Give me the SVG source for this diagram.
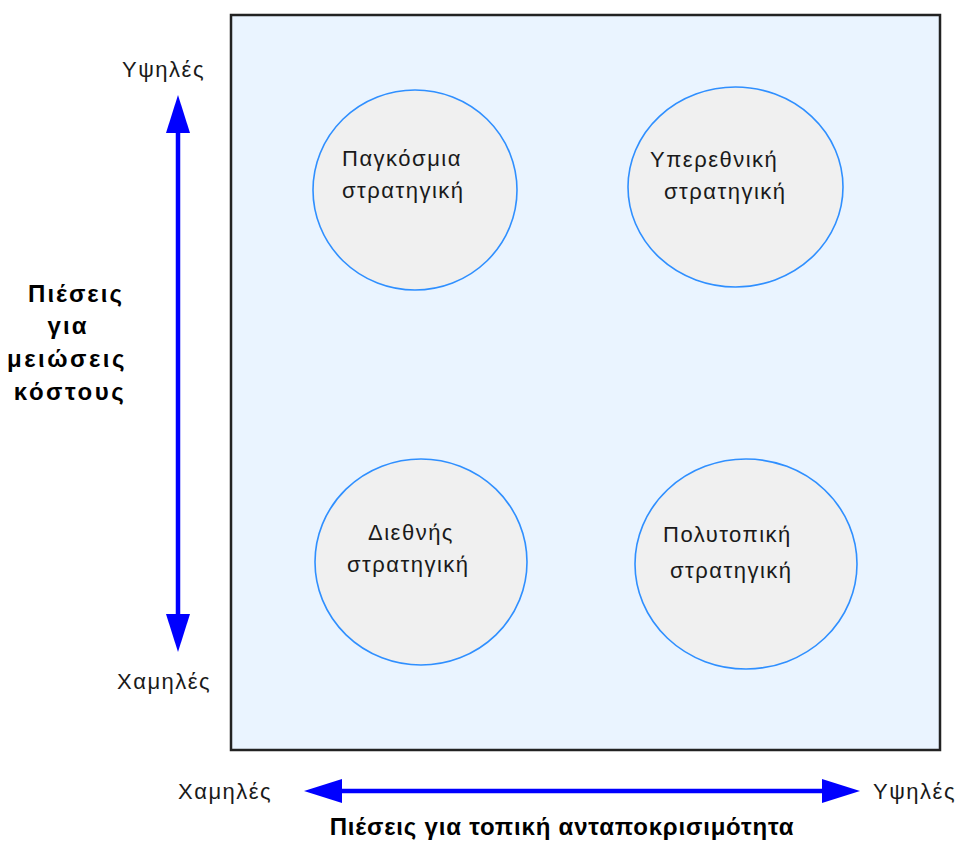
<svg xmlns="http://www.w3.org/2000/svg" width="960" height="841" viewBox="0 0 960 841">
<style>
.t{font-family:"Liberation Sans",Arial,sans-serif;font-size:22px;letter-spacing:1.5px;fill:#1a1a1a}
.b{font-family:"Liberation Sans",Arial,sans-serif;font-size:24px;font-weight:bold;fill:#000}
.c{fill:#F0F0F0;stroke:#2F8FFF;stroke-width:1.6}
.ax{stroke:#0000FF;stroke-width:4.5;fill:none}
</style>
<defs>
<marker id="ah" markerUnits="userSpaceOnUse" markerWidth="38" markerHeight="24" refX="0" refY="12" orient="auto-start-reverse" viewBox="0 0 38 24">
<path d="M0,0 L38,12 L0,24 z" fill="#0000FF"/>
</marker>
</defs>
<rect x="0" y="0" width="960" height="841" fill="#FFFFFF"/>
<g id="frame">
<rect x="231" y="15" width="709" height="735" fill="#EAF4FF" stroke="#222" stroke-width="2.5"/>
</g>
<g id="node-global">
<ellipse class="c" cx="415" cy="190" rx="102" ry="100"/>
<text class="t" x="342" y="166">Παγκόσμια</text>
<text class="t" x="342" y="198">στρατηγική</text>
</g>
<g id="node-transnational">
<ellipse class="c" cx="735.5" cy="187" rx="107.5" ry="100"/>
<text class="t" x="650" y="167">Υπερεθνική</text>
<text class="t" x="664" y="199">στρατηγική</text>
</g>
<g id="node-international">
<ellipse class="c" cx="421" cy="562" rx="106" ry="103"/>
<text class="t" x="368" y="540">Διεθνής</text>
<text class="t" x="347" y="572">στρατηγική</text>
</g>
<g id="node-multidomestic">
<ellipse class="c" cx="746" cy="564" rx="111" ry="105"/>
<text class="t" x="663" y="542">Πολυτοπική</text>
<text class="t" x="670" y="578">στρατηγική</text>
</g>
<g id="connectors">
<line class="ax" x1="178" y1="133" x2="178" y2="614" marker-start="url(#ah)" marker-end="url(#ah)"/>
<line class="ax" x1="342" y1="791" x2="822" y2="791" marker-start="url(#ah)" marker-end="url(#ah)"/>
</g>
<g id="labels">
<text class="t" x="122" y="77">Υψηλές</text>
<text class="t" x="117" y="689">Χαμηλές</text>
<text class="t" x="178" y="799">Χαμηλές</text>
<text class="t" x="873" y="799">Υψηλές</text>
<text class="b" x="76" y="302" text-anchor="middle" letter-spacing="2">Πιέσεις</text>
<text class="b" x="68" y="334" text-anchor="middle" letter-spacing="2">για</text>
<text class="b" x="67" y="367" text-anchor="middle" letter-spacing="2.5">μειώσεις</text>
<text class="b" x="70" y="400" text-anchor="middle" letter-spacing="2.5">κόστους</text>
<text class="b" x="562" y="835" text-anchor="middle" letter-spacing="0.8">Πιέσεις για τοπική ανταποκρισιμότητα</text>
</g>
</svg>
